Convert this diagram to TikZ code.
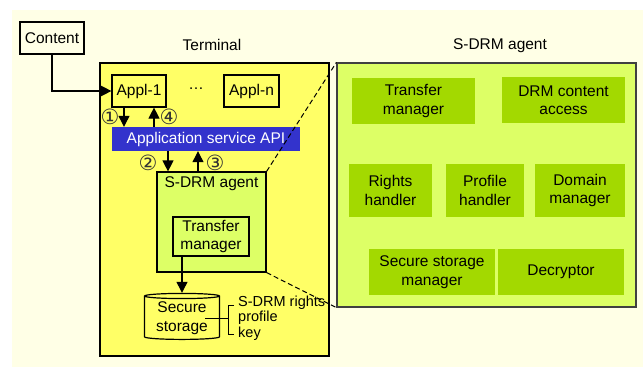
\documentclass[tikz,border=0pt]{standalone}
\usepackage{fontspec}
\setmainfont{Liberation Sans}
\newfontfamily\circfont{DejaVu Sans}
\usetikzlibrary{arrows.meta,shapes.geometric,calc}

\definecolor{paper}{HTML}{FFFFE6}
\definecolor{termyellow}{HTML}{FFFF66}
\definecolor{agentgreen}{HTML}{DDFF66}
\definecolor{partgreen}{HTML}{A3D900}
\definecolor{apiblue}{HTML}{3333CC}

\tikzset{
  box/.style={draw, line width=1.2pt, inner sep=0pt, align=center},
  part/.style={fill=partgreen, inner sep=0pt, align=center},
  arr/.style={line width=1.2pt, -{Triangle[width=11pt,length=11pt]}},
  num/.style={text=black!80, inner sep=0pt, font=\circfont\fontsize{21}{21}\selectfont},
  zoomline/.style={line width=1pt, dash pattern=on 5pt off 3pt},
  held/.style={right, inner sep=0pt, font=\fontsize{14.5}{15}\selectfont},
}

\begin{document}
\begin{tikzpicture}[x=1pt,y=-1pt,font=\fontsize{15.5}{18.5}\selectfont]
\useasboundingbox (0,0) rectangle (643,367);
\fill[paper] (12,10) rectangle (643,367);

% terminal side
\node[box, fill=termyellow, minimum width=229pt, minimum height=293pt] (terminal) at (214.5,209.5) {};
\node (termtitle) at (212,45) {Terminal};
\node[box, fill=paper, minimum width=64pt, minimum height=32pt] (content) at (52,38) {Content};
\node[box, fill=termyellow, minimum width=54pt, minimum height=32pt] (appl1) at (139,91) {Appl-1};
\node (dots) at (196,89) {\ldots};
\node[box, fill=termyellow, minimum width=55pt, minimum height=32pt] (appln) at (251.5,91) {Appl-n};
\node[fill=apiblue, text=white, inner sep=0pt, minimum width=188pt, minimum height=24pt] (api) at (206,139) {Application service API};
\node[box, fill=agentgreen, minimum width=109pt, minimum height=100pt] (agent) at (211.5,222) {};
\node[below=2pt] (agenttitle) at (agent.north) {S-DRM agent};
\node[box, fill=agentgreen, minimum width=76pt, minimum height=39pt] (tm) at (211,236.5) {Transfer\\manager};
\node[cylinder, shape border rotate=90, shape aspect=0.1, draw, line width=1.2pt, fill=termyellow,
      minimum width=75pt, minimum height=46pt, inner sep=0pt, align=center] (store) at (182,318) {Secure\\storage};

\draw[arr] (content.south) |- (appl1.west);
\draw[arr] ($(appl1.south)+(-15,0)$) -- ($(api.north)+(-82,0)$);
\draw[arr] ($(api.north)+(-52,0)$) -- ($(appl1.south)+(15,0)$);
\draw[arr] ($(api.south)+(-38,0)$) -- ($(agent.north)+(-43.5,0)$);
\draw[arr] ($(agent.north)+(-13.5,0)$) -- ($(api.south)+(-8,0)$);
\draw[arr] (tm.south -| store.north) -- (store.north);

\node[num] (n1) at (110,117) {①};
\node[num] (n4) at (169,117) {④};
\node[num] (n2) at (148,163) {②};
\node[num] (n3) at (215,163) {③};

% what the storage holds
\coordinate (brk) at (228,318);
\draw[line width=1pt] ($(store.center)+(23,0)$) -- (brk);
\draw[line width=1pt] (234,305) -- (228,305) -- (228,334) -- (234,334);
\node[held] (rights) at (238,303) {S-DRM rights};
\node[held] (profile) at (238,318) {profile};
\node[held] (key) at (238,334) {key};

% agent in detail
\node[box, draw=black!75, fill=agentgreen, minimum width=299pt, minimum height=244pt] (big) at (486.5,185) {};
\node (bigtitle) at (500,46) {S-DRM agent};
\node[part, minimum width=123pt, minimum height=46pt] (p1) at (413.5,101) {Transfer\\manager};
\node[part, minimum width=123pt, minimum height=46pt] (p2) at (563.5,100) {DRM content\\access};
\node[part, minimum width=83pt, minimum height=53pt] (p3) at (390.5,190.5) {Rights\\handler};
\node[part, minimum width=78pt, minimum height=53pt] (p4) at (485,190.5) {Profile\\handler};
\node[part, minimum width=90pt, minimum height=53pt] (p5) at (580,190.5) {Domain\\manager};
\node[part, minimum width=126pt, minimum height=46pt] (p6) at (432,272) {Secure storage\\manager};
\node[part, minimum width=126pt, minimum height=46pt] (p7) at (561,272) {Decryptor};

\draw[zoomline] (agent.north east) -- (big.north west);
\draw[zoomline] (agent.south east) -- (big.south west);
\end{tikzpicture}
\end{document}
